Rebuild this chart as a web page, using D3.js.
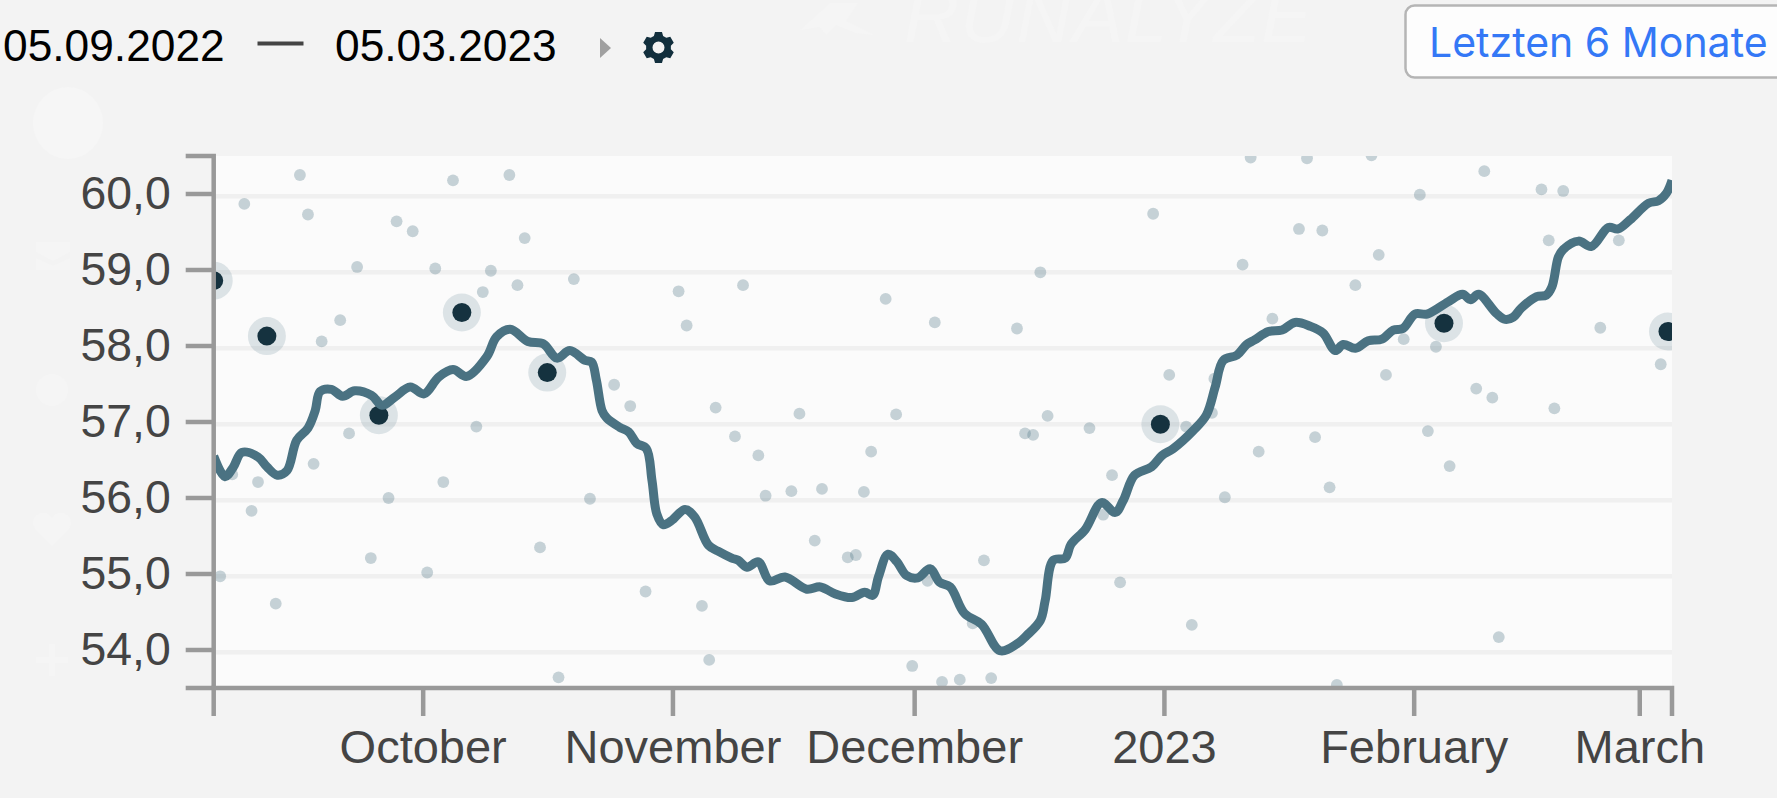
<!DOCTYPE html>
<html>
<head>
<meta charset="utf-8">
<script src="https://cdn.jsdelivr.net/npm/d3@7"></script>
<style>
  html, body { margin: 0; padding: 0; background: #f3f3f3; overflow: hidden; }
  svg { display: block; }
  .axis text { font-family: "Liberation Sans", sans-serif; font-size: 47px; fill: #444; }
  .axis.y text { font-size: 46.4px; }
  .axis path, .axis line { stroke: #999; stroke-width: 4.5px; fill: none; }
</style>
</head>
<body>
<div id="graph"></div>
<script>
// Start of the date range, all day offsets below count from here
const START = Date.UTC(2022, 8, 5)
const END   = Date.UTC(2023, 2, 5)

const yTicks = [54, 55, 56, 57, 58, 59, 60]
const xTickDates = [Date.UTC(2022,9,1), Date.UTC(2022,10,1), Date.UTC(2022,11,1),
                    Date.UTC(2023,0,1), Date.UTC(2023,1,1), Date.UTC(2023,2,1)]
const xTickLabels = ['October', 'November', 'December', '2023', 'February', 'March']

// Smoothed trend line
const lineDays = [0,1.4,2.4,3.5,5.5,6.6,7.9,9.1,10.3,11.7,12.6,13.2,14.6,16,17.5,19.6,20.9,22.5,24.4,26.1,
  27.9,29.7,31.4,33.9,35.1,36.8,39,40.9,42.6,44.2,46.1,46.9,47.5,48.2,48.8,50.4,51.5,52.5,53.7,54.4,
  55,55.8,56.8,58.5,59.7,61.4,62.6,64.3,65.1,66.2,67.6,69,70.9,73.6,75.3,77.1,79.2,80.8,81.8,82.5,
  83.7,84.8,86,87.4,88.9,90.1,91.4,93.2,95.3,97.6,99.7,100.9,102.6,103.2,104.2,105.7,106.4,108.2,110.2,111.9,
  112.9,114.3,116.4,117.7,119.1,121.6,123.2,124.3,125.3,127,128.2,129.2,130.9,132.6,134.2,136.1,137.7,139.2,140.2,141.7,
  143.3,145,146.4,147.6,149.1,150.6,153.2,155,156,157,159.2,160.3,161.3,162.3,164.2,165.4,166.1,166.9,167.5,169.4,
  171,173.1,174.3,175.8,178.1,179.3,180.3,181]
const lineValues = [56.55,56.28,56.40,56.60,56.54,56.41,56.30,56.36,56.76,56.92,57.15,57.40,57.43,57.34,57.41,57.35,57.22,57.33,57.46,57.37,
  57.59,57.69,57.60,57.86,58.12,58.22,58.06,58.03,57.84,57.94,57.81,57.79,57.55,57.15,57.05,56.93,56.87,56.72,56.65,56.23,
  55.79,55.65,55.70,55.85,55.75,55.38,55.30,55.21,55.18,55.09,55.16,54.91,54.96,54.80,54.83,54.74,54.69,54.76,54.72,54.96,
  55.26,55.16,54.98,54.95,55.07,54.89,54.83,54.48,54.34,53.99,54.08,54.19,54.39,54.65,55.18,55.21,55.39,55.59,55.94,55.81,
  55.97,56.30,56.41,56.56,56.65,56.89,57.09,57.46,57.81,57.88,58.02,58.08,58.19,58.21,58.31,58.26,58.17,57.94,58.02,57.97,
  58.07,58.09,58.21,58.23,58.42,58.42,58.58,58.68,58.61,58.68,58.43,58.35,58.38,58.50,58.65,58.67,58.78,59.17,59.27,59.38,
  59.31,59.56,59.54,59.66,59.88,59.91,60.01,60.18]

// Individual activities (pale dots)
const dotDays = [3.8,10.7,11.7,22.7,24.7,17.8,27.5,34.4,44.7,37.7,33.4,38.6,29.7,36.7,15.7,13.4,49.7,51.7,2.3,5.5,
  4.7,12.4,16.8,32.6,21.7,28.5,46.7,19.5,26.5,40.5,0.8,7.7,42.8,57.7,65.7,58.7,83.4,89.5,99.7,62.3,
  64.7,72.7,67.6,84.7,81.6,68.5,71.7,75.5,80.7,74.6,78.7,79.7,53.6,60.6,61.5,95.6,100.7,101.7,103.5,86.7,
  90.4,92.6,96.5,88.6,94.2,102.6,116.6,118.6,111.5,110.4,112.5,121.4,125.5,129.7,136.7,138.5,150.7,153.4,159.5,139.4,
  128.7,135.7,143.7,157.7,149.7,134.7,137.6,127.7,144.6,141.7,131.4,124.2,145.5,147.7,151.7,156.7,158.7,108.7,120.7,123.9,
  164.8,167.5,165.7,174.4,172.1,179.6,166.4]
const dotValues = [59.87,60.25,59.73,59.64,59.51,59.04,59.02,58.99,58.88,58.80,58.71,59.42,60.18,60.25,58.34,58.06,57.49,57.21,56.31,56.21,
  55.83,56.45,56.85,56.94,56.00,56.21,55.99,55.21,55.02,55.35,54.97,54.61,53.64,58.72,58.80,58.27,58.62,58.31,58.23,57.19,
  56.81,57.11,56.56,57.10,56.61,56.03,56.09,56.12,56.08,55.44,55.22,55.25,54.77,54.58,53.87,55.18,56.85,56.83,57.08,53.79,
  53.58,53.61,53.63,54.91,54.35,58.97,59.74,57.62,56.30,55.78,54.89,54.33,56.01,56.61,56.80,56.14,56.88,56.42,54.17,53.54,
  60.48,60.47,60.51,60.30,59.99,59.54,59.52,59.07,59.20,58.80,58.36,57.57,57.62,58.09,57.99,57.44,57.32,56.92,56.94,57.12,
  60.06,60.04,59.39,59.39,58.24,57.76,57.18]

// Highlighted activities (dark dots with a halo)
const peakDays   = [0, 6.6, 20.5, 30.8, 41.4, 117.5, 152.7, 180.5]
const peakValues = [58.86, 58.13, 57.09, 58.44, 57.65, 56.97, 58.30, 58.19]

const ML = 213.7  // left edge of the plot
const MR = 1672   // right edge of the plot
const MT = 156    // top edge of the plot
const MB = 688    // bottom edge of the plot
const GRID_DY = 2.3 // the grid bands sit a little lower than the axis ticks

const day = d => new Date(START + d*864e5)
const xsc = d3.scaleUtc([START, END], [ML, MR])
const ysc = d3.scaleLinear([53.5, 60.5], [MB, MT])

const svg = d3.select('#graph').append('svg').attr('width', 1777).attr('height', 798)

// Faint ghost of the page behind the chart
const ghost = svg.append('g').attr('fill', '#f5f5f5')
ghost.append('text').text('RUNALYZE').attr('x', 904).attr('y', 42)
  .attr('font-family', '"Liberation Sans", sans-serif').attr('font-style', 'italic')
  .attr('font-size', 76).attr('textLength', 408).attr('fill', '#f5f5f5')
ghost.append('path').attr('d', 'M800 30l30-27h28l-12 18l28 14l-18-2l-20-8l-10 10l-6-8z')
ghost.append('ellipse').attr('cx', 68).attr('cy', 123).attr('rx', 35).attr('ry', 36).attr('fill', '#f6f6f6')
ghost.append('path').attr('d', 'M36 242h34v10l-17 9l-17-9z M36 258l17 8l17-8v12h-34z')
ghost.append('circle').attr('cx', 52).attr('cy', 390).attr('r', 16)
ghost.append('path').attr('d', 'M52 546l-17-17q-6-12 6-16q7-1 11 5q4-6 11-5q12 4 6 16z')
ghost.append('path').attr('d', 'M49 644h6v13h13v6h-13v13h-6v-13h-13v-6h13z')

// Plot background and grid bands
svg.append('rect').attr('x', ML).attr('y', MT).attr('width', MR-ML).attr('height', MB-MT).attr('fill', '#fbfbfb')
svg.append('g').selectAll('line').data(yTicks).join('line')
  .attr('x1', ML).attr('x2', MR)
  .attr('y1', d => ysc(d) + GRID_DY).attr('y2', d => ysc(d) + GRID_DY)
  .attr('stroke', '#f0f0f0').attr('stroke-width', 4.5)

svg.append('clipPath').attr('id', 'plot').append('rect')
  .attr('x', ML).attr('y', MT).attr('width', MR-ML).attr('height', MB-MT)
const plot = svg.append('g').attr('clip-path', 'url(#plot)')

plot.append('g').selectAll('circle').data(dotDays).join('circle')
  .attr('cx', d => xsc(day(d)))
  .attr('cy', (d,i) => ysc(dotValues[i]))
  .attr('r', 5.9).attr('fill', '#4a7282').attr('fill-opacity', 0.3)

plot.append('g').selectAll('circle').data(peakDays).join('circle')
  .attr('cx', d => xsc(day(d)))
  .attr('cy', (d,i) => ysc(peakValues[i]))
  .attr('r', 19).attr('fill', '#4a7282').attr('fill-opacity', 0.17)
plot.append('g').selectAll('circle').data(peakDays).join('circle')
  .attr('cx', d => xsc(day(d)))
  .attr('cy', (d,i) => ysc(peakValues[i]))
  .attr('r', 9.5).attr('fill', '#15323f')

const line = d3.line().x(d => xsc(day(d))).y((d,i) => ysc(lineValues[i]))
  .curve(d3.curveCatmullRom.alpha(0.5))
plot.append('path').datum(lineDays).attr('d', line)
  .attr('fill', 'none').attr('stroke', '#4a7282').attr('stroke-width', 9)
  .attr('stroke-linejoin', 'round')

// Axes
svg.append('g').attr('class', 'axis y').attr('transform', `translate(${ML},0)`)
  .call(d3.axisLeft(ysc).tickValues(yTicks).tickSize(28).tickPadding(15).offset(0)
    .tickFormat(d => d3.format('.1f')(d).replace('.', ',')))
svg.append('g').attr('class', 'axis').attr('transform', `translate(0,${MB})`)
  .call(d3.axisBottom(xsc).tickValues(xTickDates).tickSize(28).tickPadding(14).offset(0)
    .tickFormat((d,i) => xTickLabels[i]))

// Date range header
const head = svg.append('g').attr('font-family', '"Liberation Sans", sans-serif')
  .attr('font-size', 44.3).attr('fill', '#000')
head.append('text').text('05.09.2022').attr('x', 3).attr('y', 61)
head.append('text').text('05.03.2023').attr('x', 335).attr('y', 61)
svg.append('rect').attr('x', 257.5).attr('y', 41.5).attr('width', 46).attr('height', 4).attr('fill', '#444')
svg.append('path').attr('d', 'M600 38L611 48L600 58Z').attr('fill', '#a0a0a0')

// Settings cog
const cog = d3.path()
const TEETH = 6, RO = 16, RI = 12.5, CX = 658.5, CY = 47.5
for (let k = 0; k < TEETH; k++) {
  const a = k/TEETH*2*Math.PI - Math.PI/2
  const w = Math.PI/TEETH
  const pts = [[RI, a-w*0.72], [RO, a-w*0.42], [RO, a+w*0.42], [RI, a+w*0.72]]
  pts.forEach(([r,t], j) => {
    const px = CX + r*Math.cos(t), py = CY + r*Math.sin(t)
    if (k === 0 && j === 0) cog.moveTo(px, py); else cog.lineTo(px, py)
  })
}
cog.closePath()
cog.moveTo(CX+6, CY); cog.arc(CX, CY, 6, 0, 2*Math.PI, true); cog.closePath()
svg.append('path').attr('d', cog.toString()).attr('fill', '#122f3d').attr('fill-rule', 'evenodd')

// Range button, runs off the right side of the window
svg.append('rect').attr('x', 1405.5).attr('y', 5.5).attr('width', 420).attr('height', 72).attr('rx', 9)
  .attr('fill', '#fdfdfd').attr('stroke', '#b5b5b5').attr('stroke-width', 2.5)
svg.append('text').text('Letzten 6 Monate').attr('x', 1429).attr('y', 57)
  .attr('font-family', 'Inter, sans-serif').attr('font-size', 41).attr('fill', '#3478f6')
</script>
</body>
</html>
